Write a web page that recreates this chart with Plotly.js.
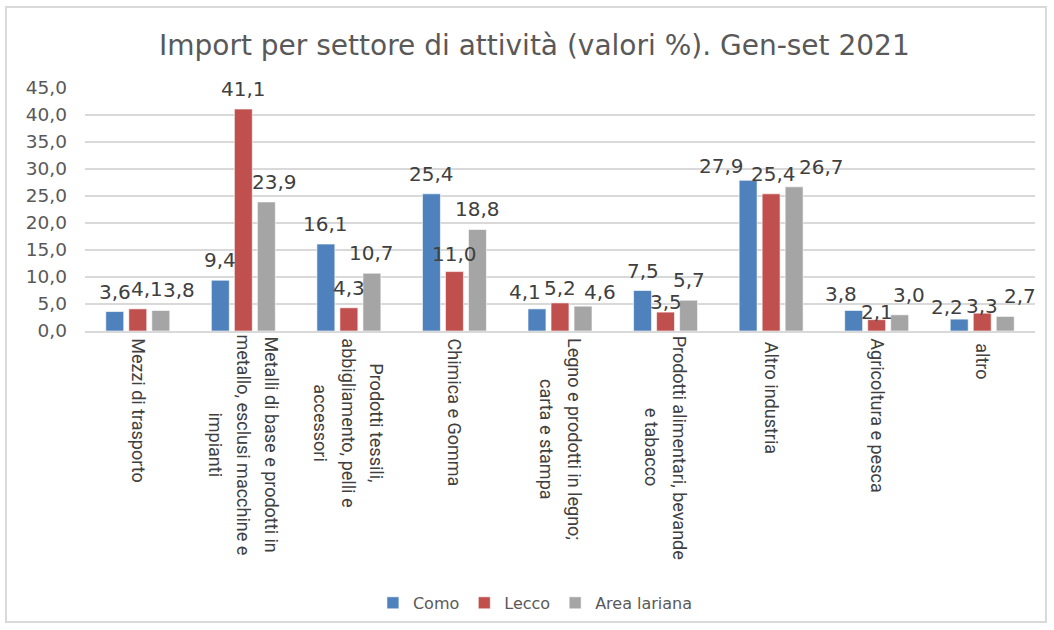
<!DOCTYPE html>
<html>
<head>
<meta charset="utf-8">
<script src="https://cdn.plot.ly/plotly-3.0.1.min.js"></script>
<style>
  html, body { margin: 0; padding: 0; background: #ffffff; }
  #frame { position: absolute; left: 5px; top: 6px; width: 1042px; height: 617px; border: 2px solid #d9d9d9; box-sizing: border-box; }
  #chart { position: absolute; left: 0; top: 0; width: 1054px; height: 630px; }
</style>
</head>
<body>
<div id="frame"></div>
<div id="chart"></div>
<script>
const categories = [
  "Mezzi di trasporto",
  "Metalli di base e prodotti in<br>metallo, esclusi macchine e<br>impianti",
  "Prodotti tessili,<br>abbigliamento, pelli e<br>accessori",
  "Chimica e Gomma",
  "Legno e prodotti in legno;<br>carta e stampa",
  "Prodotti alimentari, bevande<br>e tabacco",
  "Altro industria",
  "Agricoltura e pesca",
  "altro"
];
const seriesNames = ["Como", "Lecco", "Area lariana"];
const como = [3.6, 9.4, 16.1, 25.4, 4.1, 7.5, 27.9, 3.8, 2.2];
const lecco = [4.1, 41.1, 4.3, 11.0, 5.2, 3.5, 25.4, 2.1, 3.3];
const areaLariana = [3.8, 23.9, 10.7, 18.8, 4.6, 5.7, 26.7, 3.0, 2.7];
const yTicks = [0, 5, 10, 15, 20, 25, 30, 35, 40, 45];
const titleText = "Import per settore di attività (valori %). Gen-set 2021";

// Layout only: manual nudges (px) of some data labels, as placed in the original chart.
// key "series,category" -> [dx, dy]
const labelNudges = {
  "0,4": [-12, -3], "0,6": [-27, -6], "0,7": [-13, -4], "0,8": [-12, -8],
  "1,0": [9, 0], "1,3": [0, -2], "1,4": [0, -5], "1,5": [0, -10], "1,6": [2, 0], "1,7": [0, -12], "1,8": [0, -13],
  "2,0": [18, 0], "2,1": [8, 0], "2,4": [17, -6], "2,6": [27, 0], "2,7": [9, 0], "2,8": [15, 0]
};

const colors = ["#4f81bd", "#c0504d", "#a5a5a5"];
const values = [como, lecco, areaLariana];
const bargap = 0.346;
const catFont = "Liberation Sans Narrow";
const catSize = 18;
const catLineStep = 28;
const labelLift = 20;
const labelFont = { family: "DejaVu Sans, sans-serif", size: 20, color: "#404040" };

const traces = values.map((v, i) => ({
  type: "bar",
  name: seriesNames[i],
  x: categories.map((c, j) => j),
  y: v,
  marker: { color: colors[i], line: { color: "rgba(255,255,255,0.6)", width: 1 } },
  hoverinfo: "none"
}));

const fmt = v => v.toFixed(1).replace(".", ",");
const slot = (1 - bargap) / values.length;
const annotations = [];
// data labels above bars
values.forEach((v, i) => {
  v.forEach((val, j) => {
    const nd = labelNudges[i + "," + j] || [0, 0];
    annotations.push({
      xref: "x", yref: "y",
      x: j + (i - (values.length - 1) / 2) * slot,
      y: val,
      text: fmt(val),
      showarrow: false,
      xanchor: "center", yanchor: "middle",
      xshift: nd[0],
      yshift: labelLift + nd[1],
      font: labelFont
    });
  });
});
// rotated category labels, lines centred on each other
const ctx = document.createElement("canvas").getContext("2d");
ctx.font = catSize + "px '" + catFont + "'";
categories.forEach((c, j) => {
  const lines = c.split("<br>");
  const maxLen = Math.max(...lines.map(l => ctx.measureText(l).width));
  const n = lines.length;
  lines.forEach((line, k) => {
    annotations.push({
      xref: "x", yref: "paper",
      x: j, y: 0,
      text: line,
      textangle: 90,
      showarrow: false,
      xanchor: "center", yanchor: "middle",
      xshift: ((n - 1) / 2 - k) * catLineStep,
      yshift: -(14 + maxLen / 2),
      font: { family: catFont + ", Roboto, sans-serif", size: catSize, color: "#404040" }
    });
  });
});

const layout = {
  width: 1054,
  height: 630,
  paper_bgcolor: "rgba(0,0,0,0)",
  plot_bgcolor: "rgba(0,0,0,0)",
  separators: ",.",
  margin: { l: 85, r: 19, t: 88, b: 299 },
  barmode: "group",
  bargap: bargap,
  bargroupgap: 0.22,
  title: {
    text: titleText,
    font: { family: "DejaVu Sans, sans-serif", size: 28, color: "#595959" },
    x: 0.507, xref: "container", xanchor: "center",
    y: 0.929, yref: "container", yanchor: "middle"
  },
  xaxis: {
    type: "linear",
    range: [-0.5, categories.length - 0.5],
    showticklabels: false,
    ticks: "",
    showline: true,
    linecolor: "#d9d9d9",
    linewidth: 2,
    showgrid: false,
    zeroline: false,
    automargin: false
  },
  yaxis: {
    range: [0, 45],
    tickvals: yTicks,
    tickformat: ".1f",
    showgrid: true,
    gridcolor: "#d9d9d9",
    gridwidth: 1.5,
    zeroline: false,
    showline: false,
    ticks: "",
    ticklabelstandoff: 17,
    tickfont: { family: "DejaVu Sans, sans-serif", size: 18.5, color: "#595959" },
    automargin: false
  },
  annotations: annotations,
  showlegend: true,
  legend: {
    orientation: "h",
    x: 0.508, xref: "container", xanchor: "center",
    y: 0.043, yref: "container", yanchor: "middle",
    font: { family: "DejaVu Sans, sans-serif", size: 16, color: "#595959" },
    itemwidth: 30,
    traceorder: "normal"
  }
};

Plotly.newPlot("chart", traces, layout, { displayModeBar: false, staticPlot: true });
</script>
</body>
</html>
